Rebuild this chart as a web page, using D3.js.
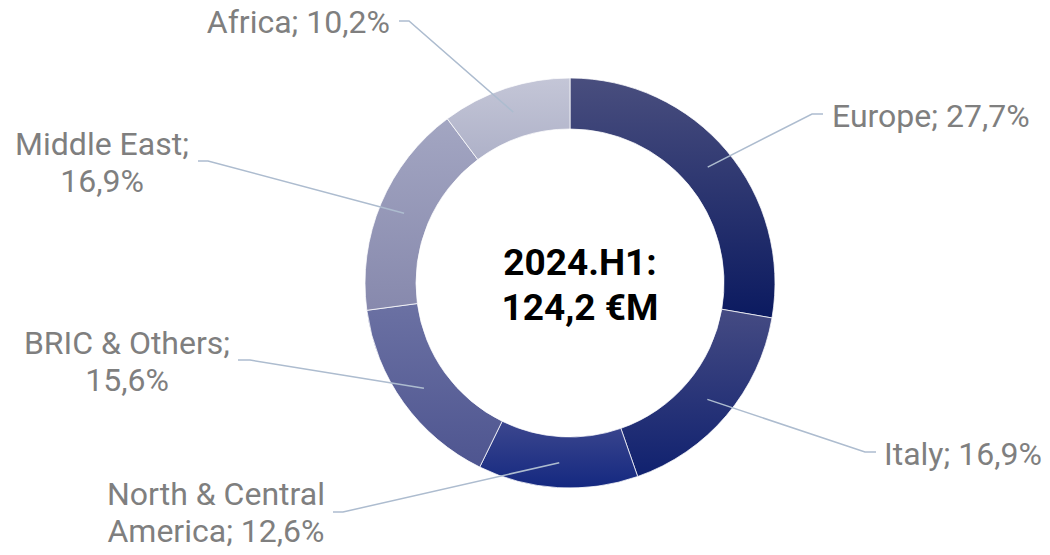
<!DOCTYPE html>
<html>
<head>
<meta charset="utf-8">
<script src="https://cdn.jsdelivr.net/npm/d3@7"></script>
<style>
  body { margin: 0; background: #fff; }
  svg { display: block; font-family: Roboto, sans-serif; }
</style>
</head>
<body>
<div id="chart"></div>
<script>
// regions, clockwise from 12 o'clock
const regions = ["Europe", "Italy", "North & Central America", "BRIC & Others", "Middle East", "Africa"]
const shares = [27.7, 16.9, 12.6, 15.6, 16.9, 10.2]
const labelLines = [
  ["Europe; 27,7%"],
  ["Italy; 16,9%"],
  ["North & Central", "America; 12,6%"],
  ["BRIC & Others;", "15,6%"],
  ["Middle East;", "16,9%"],
  ["Africa; 10,2%"]
]
const centerText = ["2024.H1:", "124,2 €M"]

const WIDTH = 1050
const HEIGHT = 555
const cx = 570, cy = 283
const outerR = 205, innerR = 154

// top / bottom colour of each slice gradient
const gradTop = ["#494e7e", "#454b83", "#3c478e", "#6b71a3", "#a3a6c2", "#c4c6d7"]
const gradBottom = ["#0b1a60", "#10216f", "#142880", "#4e5590", "#8789ad", "#aeb1c8"]

// where each leader line bends, and where its text sits
const labelLayout = [
  { elbow: [812, 114], end: [823, 114], tx: 832, ty: 115, anchor: "start" },
  { elbow: [865, 452], end: [876, 452], tx: 884, ty: 453, anchor: "start" },
  { elbow: [343, 512], end: [333, 512], tx: 216, ty: 512, anchor: "middle" },
  { elbow: [250, 360], end: [238, 360], tx: 127, ty: 361, anchor: "middle" },
  { elbow: [208, 161], end: [198, 161], tx: 102, ty: 162, anchor: "middle" },
  { elbow: [409, 21], end: [399, 21], tx: 390, ty: 21, anchor: "end" }
]

const data = regions.map((r, i) => ({ name: r, value: shares[i], i }))

const svg = d3.select("#chart").append("svg")
  .attr("width", WIDTH)
  .attr("height", HEIGHT)

const defs = svg.append("defs")
data.forEach(d => {
  const g = defs.append("linearGradient")
    .attr("id", "grad" + d.i)
    .attr("x1", 0).attr("y1", 0).attr("x2", 0).attr("y2", 1)
  g.append("stop").attr("offset", "0%").attr("stop-color", gradTop[d.i])
  g.append("stop").attr("offset", "100%").attr("stop-color", gradBottom[d.i])
})

const pie = d3.pie().value(d => d.value).sort(null)
const arcs = pie(data)

const arc = d3.arc().innerRadius(innerR).outerRadius(outerR)
const lineArc = d3.arc().innerRadius(180).outerRadius(180)

const g = svg.append("g").attr("transform", `translate(${cx},${cy})`)

g.selectAll("path.slice")
  .data(arcs)
  .enter().append("path")
  .attr("class", "slice")
  .attr("d", arc)
  .attr("fill", d => `url(#grad${d.data.i})`)
  .attr("stroke", "#fff")
  .attr("stroke-width", 0.75)

// leader lines
g.selectAll("polyline")
  .data(arcs)
  .enter().append("polyline")
  .attr("points", d => {
    const p = lineArc.centroid(d)
    const L = labelLayout[d.data.i]
    return [p, [L.elbow[0] - cx, L.elbow[1] - cy], [L.end[0] - cx, L.end[1] - cy]].map(q => q.join(",")).join(" ")
  })
  .attr("fill", "none")
  .attr("stroke", "#adbccf")
  .attr("stroke-width", 1.5)

// labels
const lineH = 37
data.forEach(d => {
  const L = labelLayout[d.i]
  const lines = labelLines[d.i]
  const t = svg.append("text")
    .attr("text-anchor", L.anchor)
    .attr("font-size", 32)
    .attr("fill", "#7f7f7f")
  const y0 = L.ty - (lines.length - 1) * lineH / 2 + 11.5
  lines.forEach((s, k) => {
    t.append("tspan").attr("x", L.tx).attr("y", y0 + k * lineH).text(s)
  })
})

// centre text
const ct = svg.append("text")
  .attr("text-anchor", "middle")
  .attr("font-size", 37)
  .attr("font-weight", "bold")
  .attr("fill", "#000")
centerText.forEach((s, k) => {
  ct.append("tspan").attr("x", cx + 10).attr("y", 275 + k * 45).text(s)
})
</script>
</body>
</html>
